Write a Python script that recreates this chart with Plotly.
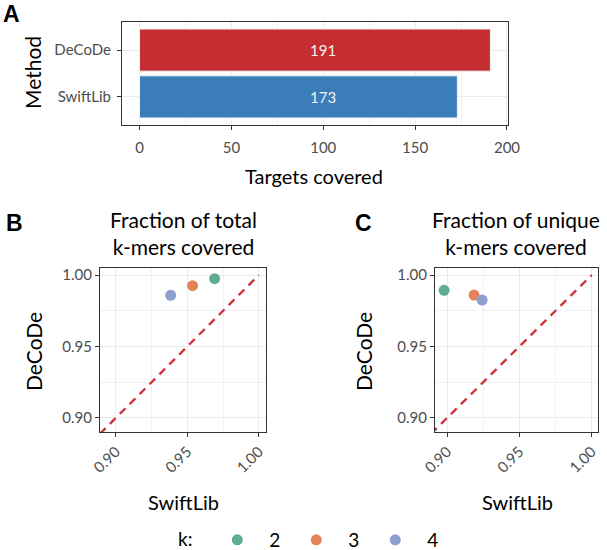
import plotly.graph_objects as go

# ---- data ----
methods = ["DeCoDe", "SwiftLib"]
targets_covered = [191, 173]
method_colors = ["#C62D32", "#3A7DB8"]

k_values = ["2", "3", "4"]
k_colors = ["#5FAE90", "#E3835C", "#8C9FCF"]

total_swiftlib = [0.9691, 0.9537, 0.9384]
total_decode = [0.9974, 0.9925, 0.9858]

unique_swiftlib = [0.8980, 0.9187, 0.9243]
unique_decode = [0.9893, 0.9860, 0.9825]

W, H = 607, 550
FONT = "Lato"
TICK_COL = "#4D4D4D"
GRID = "#EBEBEB"
BORDER = "#333333"


def px(x):
    return x / W


def py(y):
    return 1 - y / H


fig = go.Figure()

# ---- panel A: bars ----
fig.add_trace(go.Bar(
    x=targets_covered, y=methods, orientation="h",
    marker=dict(color=method_colors, line=dict(color="#F4F4F4", width=1)),
    width=0.9, showlegend=False, xaxis="x", yaxis="y", hoverinfo="skip",
))
for m, v in zip(methods, targets_covered):
    fig.add_annotation(x=100, y=m, xref="x", yref="y", text=str(v), showarrow=False,
                       font=dict(family=FONT, size=15, color="#F2F2F2"))

# ---- panels B and C: scatter ----
def add_scatter(xs, ys, xa, ya, show):
    lo = 0.889
    fig.add_trace(go.Scatter(
        x=[lo, 1.0], y=[lo, 1.0], mode="lines",
        line=dict(color="#D1343C", width=2.4, dash="8px,6px"),
        showlegend=False, xaxis=xa, yaxis=ya, hoverinfo="skip",
    ))
    for k, c, xv, yv in zip(k_values, k_colors, xs, ys):
        fig.add_trace(go.Scatter(
            x=[xv], y=[yv], mode="markers", name=k, legendgroup=k,
            marker=dict(color=c, size=11, line=dict(width=0)),
            showlegend=show, xaxis=xa, yaxis=ya,
        ))

add_scatter(total_swiftlib, total_decode, "x2", "y2", True)
add_scatter(unique_swiftlib, unique_decode, "x3", "y3", False)

common_axis = dict(
    showline=True, mirror=True, linecolor=BORDER, linewidth=1.2,
    ticks="outside", ticklen=4, tickcolor=BORDER, tickwidth=1.4,
    showgrid=True, gridcolor=GRID, gridwidth=1.4, zeroline=False,
    tickfont=dict(family=FONT, size=15, color=TICK_COL),
    automargin=False,
)
minor_grid = dict(showgrid=True, gridcolor="#F1F1F1", gridwidth=1)

scatter_ticks = [0.90, 0.95, 1.00]
scatter_ticktext = ["0.90", "0.95", "1.00"]

fig.update_layout(
    width=W, height=H,
    margin=dict(l=0, r=0, t=0, b=0, autoexpand=False),
    paper_bgcolor="white", plot_bgcolor="white",
    font=dict(family=FONT),
    xaxis=dict(domain=[px(122), px(508)], range=[-9.55, 200.55], anchor="y",
               tickvals=[0, 50, 100, 150, 200],
               minor=dict(tickvals=[25, 75, 125, 175], **minor_grid),
               ticklabelstandoff=5, **common_axis),
    yaxis=dict(domain=[py(125), py(22)], anchor="x", type="category",
               categoryorder="array", categoryarray=["SwiftLib", "DeCoDe"],
               range=[-0.6, 1.6], ticklabelstandoff=3, **common_axis),
    xaxis2=dict(domain=[px(100), px(266)], range=[0.889, 1.005], anchor="y2",
                tickvals=scatter_ticks, ticktext=scatter_ticktext, tickangle=-45,
                minor=dict(tickvals=[0.925, 0.975], **minor_grid),
                **common_axis),
    yaxis2=dict(domain=[py(432), py(268)], range=[0.8902, 1.0049], anchor="x2",
                tickvals=scatter_ticks, ticktext=scatter_ticktext,
                minor=dict(tickvals=[0.925, 0.975], **minor_grid),
                **common_axis),
    xaxis3=dict(domain=[px(435), px(597.5)], range=[0.8917, 1.004], anchor="y3",
                tickvals=scatter_ticks, ticktext=scatter_ticktext, tickangle=-45,
                minor=dict(tickvals=[0.925, 0.975], **minor_grid),
                **common_axis),
    yaxis3=dict(domain=[py(432), py(268)], range=[0.8902, 1.0049], anchor="x3",
                tickvals=scatter_ticks, ticktext=scatter_ticktext,
                minor=dict(tickvals=[0.925, 0.975], **minor_grid),
                **common_axis),
    legend=dict(orientation="h", x=px(176), y=py(540), xanchor="left", yanchor="middle",
                title=dict(text="k: ", font=dict(family=FONT, size=19, color="black")),
                font=dict(family=FONT, size=19, color="black"),
                itemwidth=54, entrywidth=10, bgcolor="rgba(0,0,0,0)"),
)

def ann(text, x, y, size=20, color="black", bold=False, angle=0, family=FONT):
    fig.add_annotation(
        x=px(x), y=py(y), xref="paper", yref="paper", text=f"<b>{text}</b>" if bold else text,
        showarrow=False, xanchor="center", yanchor="middle", textangle=angle,
        font=dict(family=family, size=size, color=color),
    )

# panel A labels
ann("A", 11, 14, size=23, bold=True, family="Liberation Sans")
ann("Method", 33, 73, size=21, angle=-90)
ann("Targets covered", 314, 176)

# panel B labels
ann("B", 14, 223, size=23, bold=True, family="Liberation Sans")
ann("Fraction of total<br>k-mers covered", 183, 233, size=21)
ann("DeCoDe", 33, 352, size=21, angle=-90)
ann("SwiftLib", 183, 502)

# panel C labels
ann("C", 363, 223, size=23, bold=True, family="Liberation Sans")
ann("Fraction of unique<br>k-mers covered", 516, 233, size=21)
ann("DeCoDe", 363, 352, size=21, angle=-90)
ann("SwiftLib", 517, 502)

fig.write_html("out.html", config={"displayModeBar": False},
               post_script="document.body.style.margin='0px';document.body.style.overflow='hidden';")
